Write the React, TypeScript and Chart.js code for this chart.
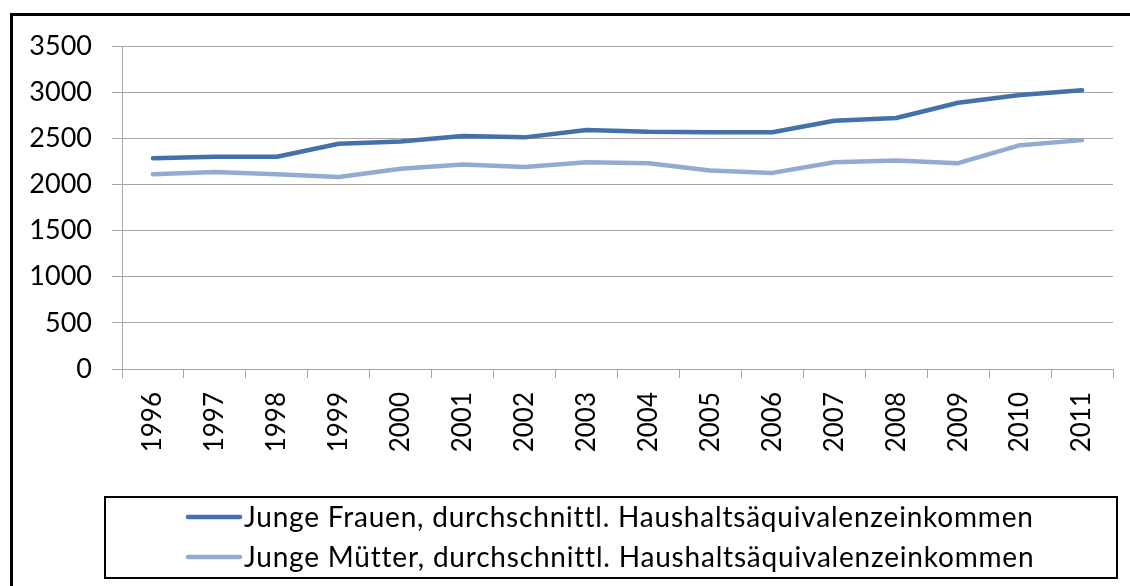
import React, { useEffect, useRef } from "react";
import { Chart, registerables } from "chart.js";

Chart.register(...registerables);

const years = ["1996", "1997", "1998", "1999", "2000", "2001", "2002", "2003", "2004", "2005", "2006", "2007", "2008", "2009", "2010", "2011"];
const frauen = [2285, 2300, 2300, 2440, 2465, 2525, 2510, 2590, 2570, 2565, 2565, 2690, 2720, 2885, 2970, 3020];
const muetter = [2110, 2135, 2110, 2080, 2170, 2215, 2190, 2240, 2230, 2150, 2125, 2240, 2260, 2230, 2425, 2480];
const seriesLabels = [
  "Junge Frauen, durchschnittl. Haushaltsäquivalenzeinkommen",
  "Junge Mütter, durchschnittl. Haushaltsäquivalenzeinkommen",
];
const seriesColors = ["#4571AA", "#93AAD2"];

const W = 1130;
const H = 586;
const FONT = "Lato, 'Open Sans', sans-serif";

const framePlugin = {
  id: "frameAndLegend",
  afterDraw(chart: any) {
    const ctx = chart.ctx;
    ctx.save();
    // outer frame (left + top visible, cropped on right/bottom)
    ctx.strokeStyle = "#000";
    ctx.lineWidth = 3;
    ctx.beginPath();
    ctx.moveTo(11.5, H + 5);
    ctx.lineTo(11.5, 14.5);
    ctx.lineTo(W + 5, 14.5);
    ctx.stroke();

    // legend box
    ctx.lineWidth = 2;
    ctx.strokeRect(105, 497, 1012, 81);

    const rows = [517, 557];
    chart.data.datasets.forEach((ds: any, i: number) => {
      const y = rows[i];
      ctx.strokeStyle = ds.borderColor;
      ctx.lineWidth = 4.5;
      ctx.lineCap = "round";
      ctx.beginPath();
      ctx.moveTo(188, y);
      ctx.lineTo(240, y);
      ctx.stroke();
      ctx.fillStyle = "#000";
      ctx.font = `28px ${FONT}`;
      try {
        (ctx as any).letterSpacing = "0.8px";
      } catch (e) {}
      ctx.textBaseline = "middle";
      ctx.textAlign = "left";
      ctx.fillText(ds.label, 244, y + 1);
      try {
        (ctx as any).letterSpacing = "0px";
      } catch (e) {}
    });
    ctx.restore();
  },
};

export default function App() {
  const ref = useRef<HTMLCanvasElement | null>(null);
  useEffect(() => {
    if (!ref.current) return;
    const chart = new Chart(ref.current, {
      type: "line",
      data: {
        labels: years,
        datasets: [
          {
            label: seriesLabels[0],
            data: frauen,
            borderColor: seriesColors[0],
            backgroundColor: seriesColors[0],
            borderWidth: 4.5,
            pointRadius: 0,
            tension: 0,
            borderCapStyle: "round",
            borderJoinStyle: "round",
          },
          {
            label: seriesLabels[1],
            data: muetter,
            borderColor: seriesColors[1],
            backgroundColor: seriesColors[1],
            borderWidth: 4.5,
            pointRadius: 0,
            tension: 0,
            borderCapStyle: "round",
            borderJoinStyle: "round",
          },
        ],
      },
      options: {
        responsive: false,
        animation: false,
        devicePixelRatio: 1,
        layout: { padding: { left: 0, top: 46, right: 17, bottom: 97 } },
        plugins: { legend: { display: false }, tooltip: { enabled: false } },
        scales: {
          x: {
            offset: true,
            grid: {
              offset: true,
              drawOnChartArea: false,
              drawTicks: true,
              tickLength: 9,
              color: "#A6A6A6",
              lineWidth: 1,
            },
            border: { color: "#A6A6A6", width: 1 },
            ticks: {
              minRotation: 90,
              maxRotation: 90,
              padding: 14,
              color: "#000",
              font: { family: FONT, size: 26 },
              autoSkip: false,
            },
            afterFit(scale: any) {
              scale.height = 120;
            },
          },
          y: {
            min: 0,
            max: 3500,
            ticks: {
              stepSize: 500,
              padding: 20,
              color: "#000",
              font: { family: FONT, size: 27 },
              callback: (v: any) => String(v),
            },
            grid: {
              color: "#A6A6A6",
              lineWidth: 1,
              drawTicks: true,
              tickLength: 10,
            },
            border: { color: "#A6A6A6", width: 1 },
            afterFit(scale: any) {
              scale.width = 122;
            },
          },
        },
      },
      plugins: [framePlugin],
    });
    return () => chart.destroy();
  }, []);
  return (
    <div style={{ position: "fixed", left: 0, top: 0, width: W, height: H, background: "#fff" }}>
      <canvas ref={ref} width={W} height={H} style={{ width: W, height: H, display: "block" }} />
    </div>
  );
}
